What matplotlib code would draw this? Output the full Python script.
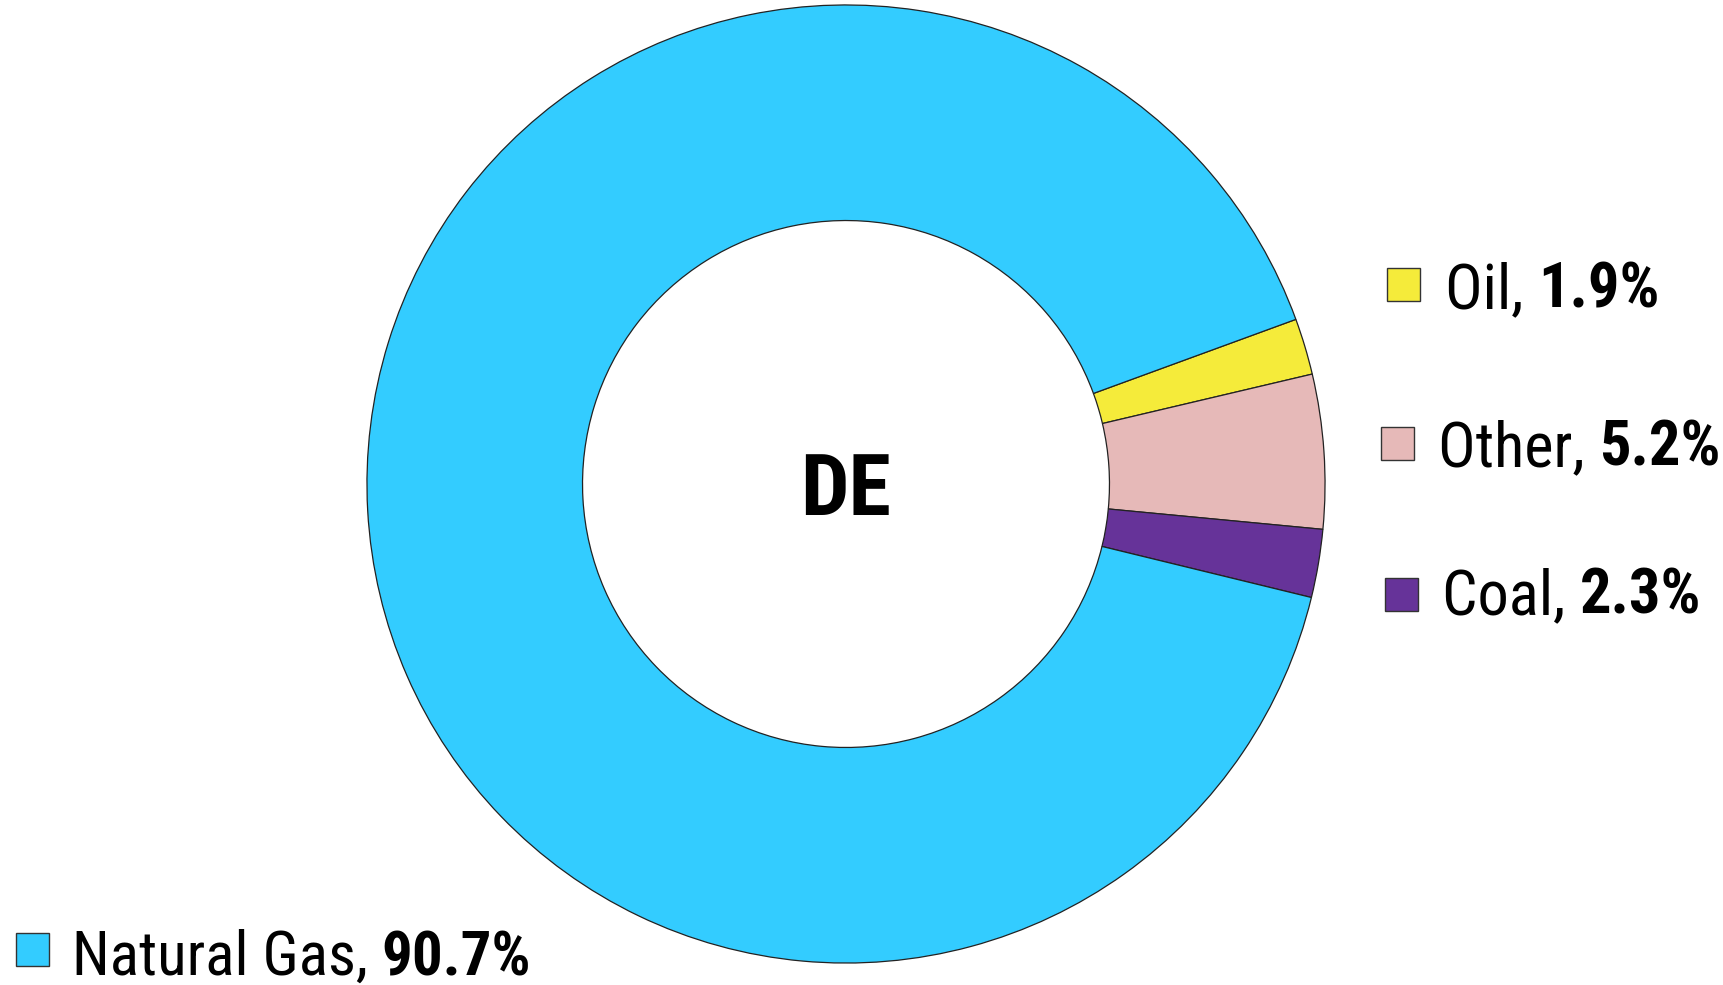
import matplotlib
matplotlib.use("Agg")
import matplotlib.pyplot as plt
from matplotlib.patches import Rectangle

# fuel shares for DE, in the order drawn clockwise from the top-right
labels = ["Oil", "Other", "Coal", "Natural Gas"]
shares = [1.9, 5.2, 2.3, 90.7]
colors = ["#F5EB3A", "#E6B9B8", "#663399", "#33CCFF"]
center_label = "DE"

FONT = ["Roboto Condensed", "Liberation Sans", "DejaVu Sans"]
plt.rcParams["font.family"] = FONT

W, H = 1724, 985
fig = plt.figure(figsize=(W / 100, H / 100), dpi=100)

# donut: centre (846, 484) px from top-left, radius 480 px
cx, cy, r = 846, 484, 480
ax = fig.add_axes([(cx - r) / W, (H - cy - r) / H, 2 * r / W, 2 * r / H])
ax.pie(shares, colors=colors, startangle=20.1, counterclock=False,
       radius=1.0, wedgeprops=dict(width=0.45, edgecolor="#222222", linewidth=0.9))
ax.set_xlim(-1.002, 1.002)
ax.set_ylim(-1.002, 1.002)
ax.set_aspect("equal")
ax.axis("off")

ax.text(0, -0.015, center_label, ha="center", va="center", fontsize=62,
        fontweight="bold", family=FONT)

# legend entries: (square x, square top, text x, baseline, font size) in px
legend_pos = {
    "Oil": (1387, 268, 1445, 308, 45),
    "Other": (1381, 427, 1438, 466, 45),
    "Coal": (1385, 578, 1442, 614, 45),
    "Natural Gas": (16, 933, 72, 975, 44),
}

fig.canvas.draw()
renderer = fig.canvas.get_renderer()
for name, val, col in zip(labels, shares, colors):
    sx, sy, tx, ty, fs = legend_pos[name]
    side = 33
    fig.patches.append(Rectangle((sx / W, 1 - (sy + side) / H), side / W, side / H,
                                 transform=fig.transFigure, facecolor=col,
                                 edgecolor="#333333", linewidth=1.0))
    t1 = fig.text(tx / W, 1 - ty / H, f"{name}, ", fontsize=fs, va="baseline",
                  ha="left", family=FONT)
    bb = t1.get_window_extent(renderer)
    fig.text(bb.x1 / W, 1 - ty / H, f"{val:.1f}%", fontsize=fs, va="baseline",
             ha="left", fontweight="bold", family=FONT)

fig.savefig("out.png", dpi=100, facecolor="white")
